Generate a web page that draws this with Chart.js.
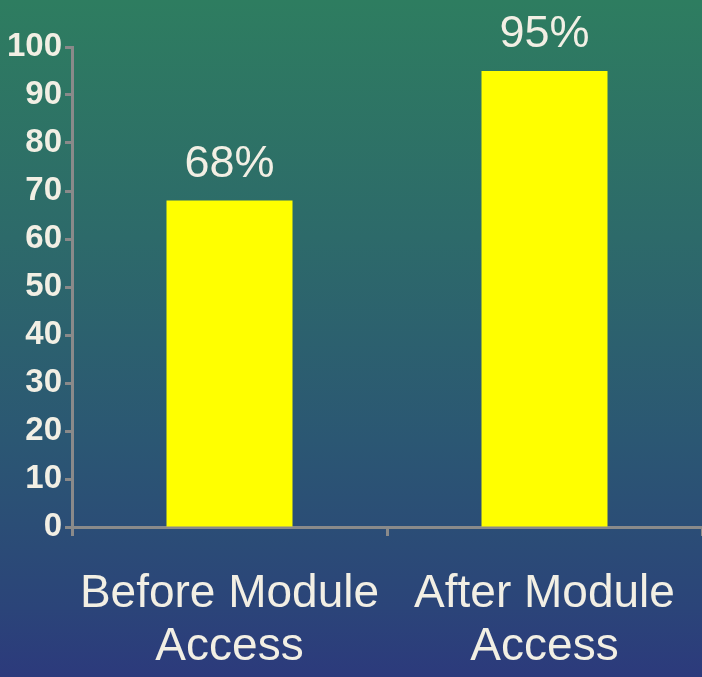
<!DOCTYPE html>
<html>
<head>
<meta charset="utf-8">
<script src="https://cdn.jsdelivr.net/npm/chart.js@4"></script>
<style>
  html, body { margin: 0; padding: 0; }
  body {
    width: 702px; height: 677px; overflow: hidden;
    background: linear-gradient(to bottom, #2e7d60 0%, #2d6a6a 35%, #2b5773 65%, #2b4479 90%, #2c3a7c 100%);
  }
  #wrap { position: relative; width: 702px; height: 677px; }
</style>
</head>
<body>
<div id="wrap"><canvas id="chart"></canvas></div>
<script>
// Share of respondents before and after module access
const categories = [["Before Module", "Access"], ["After Module", "Access"]];
const values = [68, 95];
const valueLabels = ["68%", "95%"];
const yTicks = [0, 10, 20, 30, 40, 50, 60, 70, 80, 90, 100];

const textColor = '#f2efe4';
const axisColor = '#8a8a8a';
const fontFamily = '"Liberation Sans", Arial, sans-serif';

// Percentage labels above each bar
const valueLabelPlugin = {
  id: 'valueLabels',
  afterDatasetsDraw(chart) {
    const ctx = chart.ctx;
    const meta = chart.getDatasetMeta(0);
    ctx.save();
    ctx.font = '45px ' + fontFamily;
    ctx.fillStyle = textColor;
    ctx.textAlign = 'center';
    ctx.textBaseline = 'alphabetic';
    meta.data.forEach((bar, i) => {
      ctx.fillText(valueLabels[i], bar.x, bar.y - 24);
    });
    ctx.restore();
  }
};

new Chart(document.getElementById('chart'), {
  type: 'bar',
  data: {
    labels: categories,
    datasets: [{
      data: values,
      backgroundColor: '#ffff00',
      borderWidth: 0,
      categoryPercentage: 0.8,
      barPercentage: 0.5
    }]
  },
  options: {
    responsive: true,
    maintainAspectRatio: false,
    animation: false,
    layout: { padding: { top: 47, right: 0, left: 0, bottom: 0 } },
    plugins: { legend: { display: false }, tooltip: { enabled: false } },
    scales: {
      x: {
        offset: true,
        grid: {
          offset: true,
          drawOnChartArea: false,
          drawTicks: true,
          tickLength: 9,
          tickWidth: 3,
          tickColor: axisColor
        },
        border: { color: axisColor, width: 3 },
        ticks: {
          color: textColor,
          font: { family: fontFamily, size: 46, lineHeight: 1.17 },
          padding: 31,
          maxRotation: 0,
          autoSkip: false
        },
        afterFit(scale) {
          scale.height = 150;
          // let the axis run to the right edge even though the last label is wide
          scale.paddingLeft = 0;
          scale.paddingRight = 0;
        }
      },
      y: {
        min: 0,
        max: 100,
        afterBuildTicks(scale) { scale.ticks = yTicks.map(v => ({ value: v })); },
        grid: {
          drawOnChartArea: false,
          drawTicks: true,
          tickLength: 7,
          tickWidth: 3,
          tickColor: axisColor
        },
        border: { color: axisColor, width: 3 },
        ticks: {
          color: textColor,
          font: { family: fontFamily, size: 33, weight: 'bold' },
          padding: 3
        },
        afterFit(scale) { scale.width = 72; }
      }
    }
  },
  plugins: [valueLabelPlugin]
});
</script>
</body>
</html>
